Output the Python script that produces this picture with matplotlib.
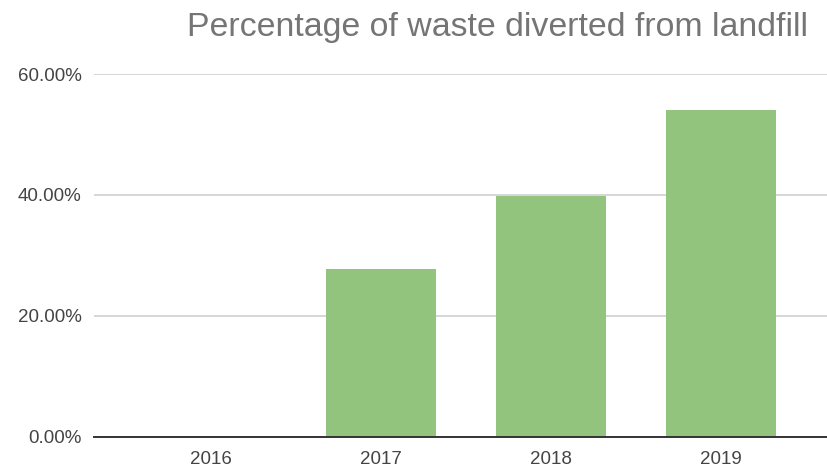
import numpy as np
import matplotlib.pyplot as plt
from matplotlib.ticker import FuncFormatter

years = ["2016", "2017", "2018", "2019"]
diverted_pct = [0.0, 27.7, 39.9, 54.0]
y_ticks = [0, 20, 40, 60]

plt.rcParams['font.family'] = ['Liberation Sans', 'DejaVu Sans']

fig = plt.figure(figsize=(8.28, 4.72), dpi=100)
ax = fig.add_axes([0.1135, 0.0742, 0.8865, 0.769])

x = np.arange(len(years))
ax.bar(x, diverted_pct, width=0.645, color='#93c47d', zorder=3)

ax.set_xlim(-0.688, 3.63)
ax.set_ylim(0, 60)
ax.set_yticks(y_ticks)
ax.yaxis.set_major_formatter(FuncFormatter(lambda v, p: f"{v:.2f}%"))
ax.set_xticks(x)
ax.set_xticklabels(years)

ax.grid(axis='y', color='#d0d0d0', linewidth=1.2, zorder=0)
for s in ['top', 'right', 'left']:
    ax.spines[s].set_visible(False)
ax.spines['bottom'].set_color('#333333')
ax.spines['bottom'].set_linewidth(1.4)
ax.spines['bottom'].set_zorder(4)
ax.tick_params(axis='both', length=0, labelsize=13.5, colors='#444444')
ax.tick_params(axis='y', pad=9)
ax.tick_params(axis='x', pad=10)

fig.text(808 / 828, 1 - 36 / 472, "Percentage of waste diverted from landfill",
         ha='right', va='baseline', fontsize=24.4, color='#757575')

fig.savefig("out.png", dpi=100)
